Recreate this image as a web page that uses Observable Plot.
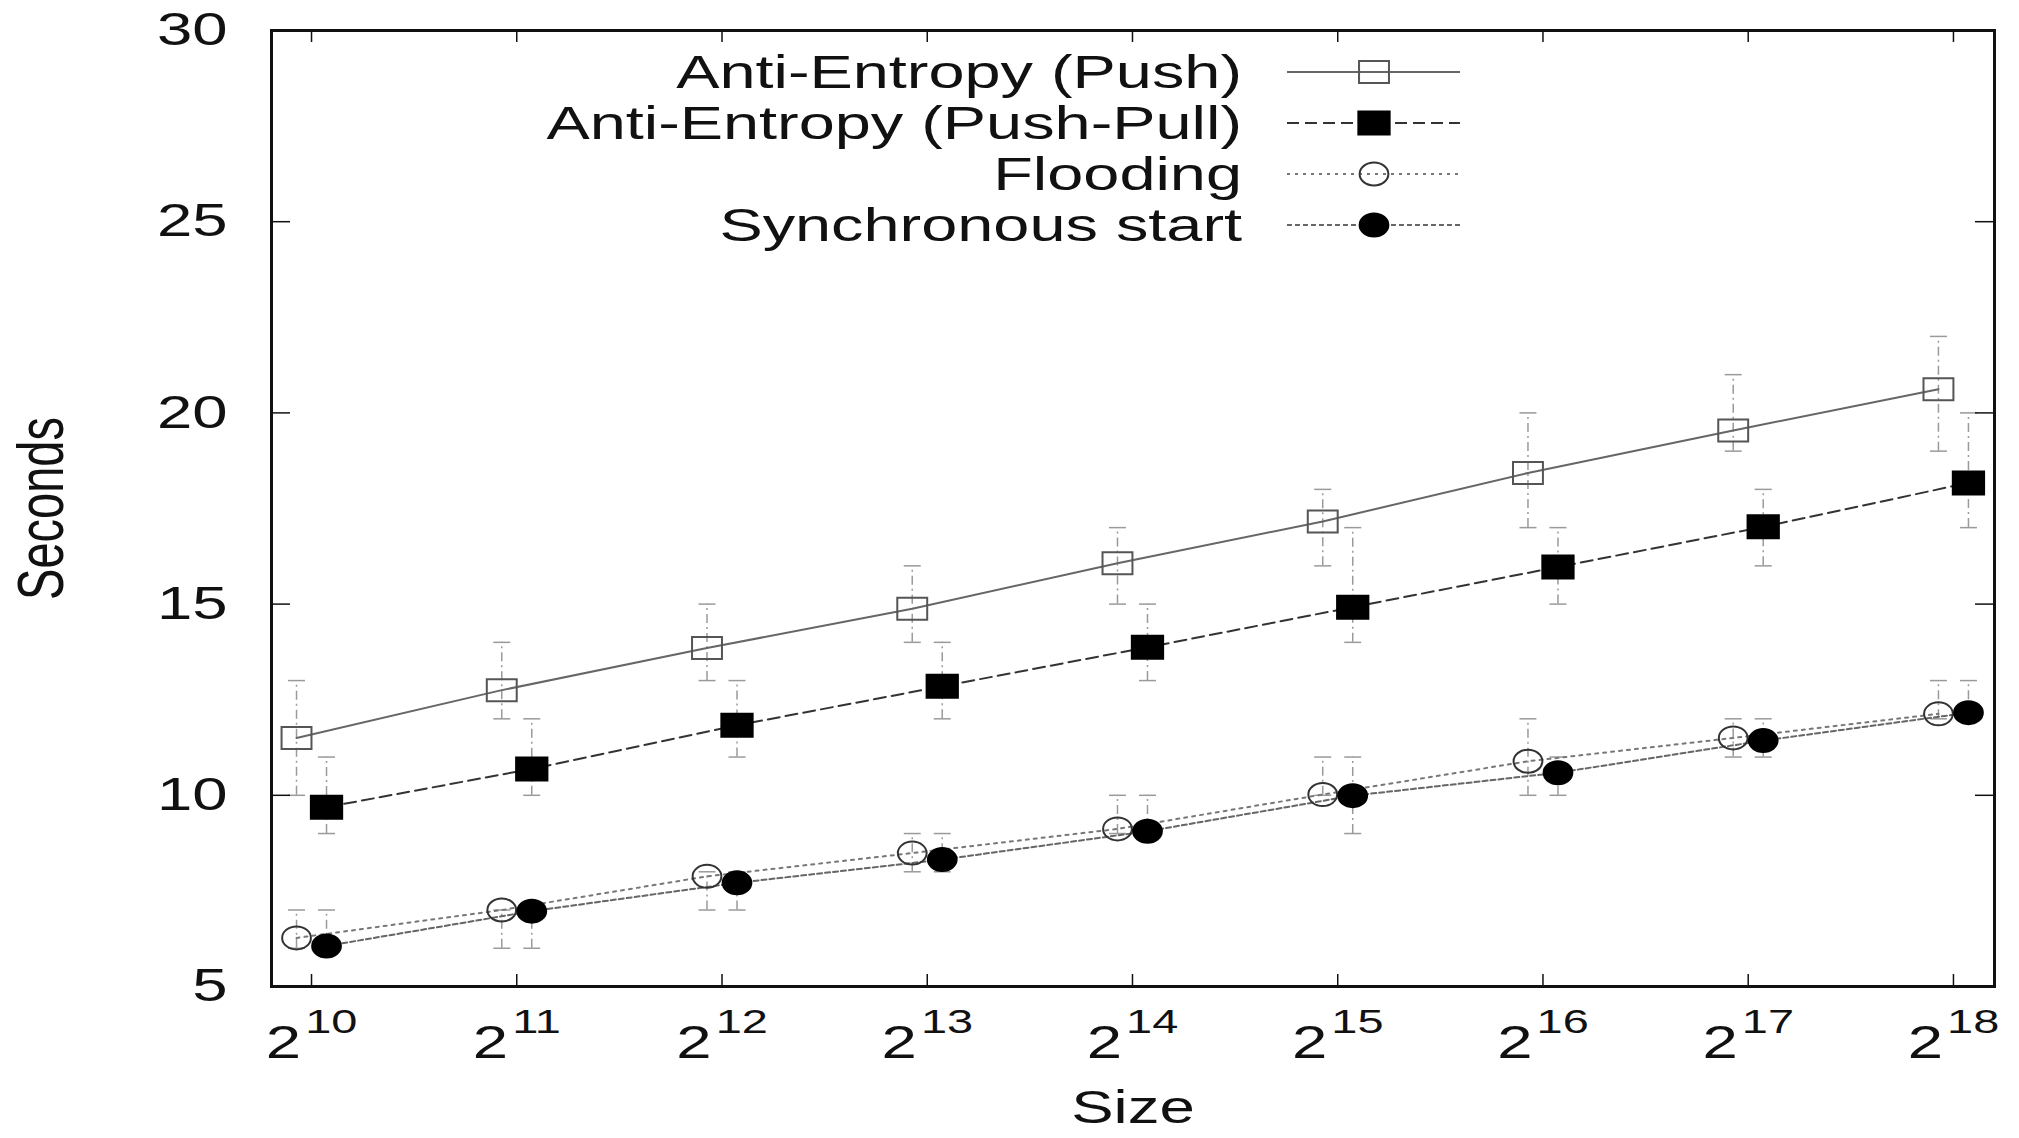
<!DOCTYPE html>
<html>
<head>
<meta charset="utf-8">
<script src="https://cdn.jsdelivr.net/npm/d3@7"></script>
<script src="https://cdn.jsdelivr.net/npm/@observablehq/plot@0.6"></script>
<style>
html, body { margin: 0; padding: 0; background: #fff; }
#wrap { position: relative; width: 2019px; height: 1138px; overflow: hidden; }
#wrap svg { position: absolute; left: 0; top: 0; }
</style>
</head>
<body>
<div id="wrap"></div>
<script>
// ---------------- data ----------------
const exponents = [10, 11, 12, 13, 14, 15, 16, 17, 18];   // Size = 2^exponent
const yTicks = [5, 10, 15, 20, 25, 30];

const seriesNames = ["Anti-Entropy (Push)", "Anti-Entropy (Push-Pull)", "Flooding", "Synchronous start"];

const pushMean = [11.5, 12.75, 13.85, 14.88, 16.07, 17.16, 18.43, 19.54, 20.62];
const pushLo   = [10, 12, 13, 14, 15, 16, 17, 19, 19];
const pushHi   = [13, 14, 15, 16, 17, 18, 20, 21, 22];

const pushPullMean = [9.69, 10.69, 11.83, 12.85, 13.87, 14.92, 15.97, 17.02, 18.17];
const pushPullLo   = [9, 10, 11, 12, 13, 14, 15, 16, 17];
const pushPullHi   = [11, 12, 13, 14, 15, 17, 17, 18, 20];

const floodMean = [6.27, 7.0, 7.88, 8.49, 9.12, 10.02, 10.89, 11.5, 12.13];
const floodLo   = [6, 6, 7, 8, 9, 10, 10, 11, 12];
const floodHi   = [7, 7, 8, 9, 10, 11, 12, 12, 13];

const syncMean = [6.06, 6.97, 7.71, 8.32, 9.06, 9.99, 10.59, 11.43, 12.16];
const syncLo   = [6, 6, 7, 8, 9, 9, 10, 11, 12];
const syncHi   = [7, 7, 8, 9, 10, 11, 11, 12, 13];

// ---------------- styling ----------------
const W = 2019, H = 1138;
const M = {left: 271, right: 25, top: 30, bottom: 152};
const innerW = W - M.left - M.right, innerH = H - M.top - M.bottom;
const FONT = "'Liberation Sans', Arial, Helvetica, sans-serif";
const FS = 46;          // font size
const STRETCH = 1.38;   // horizontal stretch of the glyphs in the reference

// horizontally stretched square and ellipse symbols
const rectSym = {draw(ctx, size) {
  const h = Math.sqrt(size / Math.PI), w = h * 1.36;
  ctx.moveTo(-w, -h); ctx.lineTo(w, -h); ctx.lineTo(w, h); ctx.lineTo(-w, h); ctx.closePath();
}};
const ellSym = {draw(ctx, size) {
  const h = Math.sqrt(size / Math.PI), w = h * 1.25, k = 0.5523;
  ctx.moveTo(w, 0);
  ctx.bezierCurveTo(w, k * h, k * w, h, 0, h);
  ctx.bezierCurveTo(-k * w, h, -w, k * h, -w, 0);
  ctx.bezierCurveTo(-w, -k * h, -k * w, -h, 0, -h);
  ctx.bezierCurveTo(k * w, -h, w, -k * h, w, 0);
  ctx.closePath();
}};
const capSym = {draw(ctx) { ctx.moveTo(-8.5, 0); ctx.lineTo(8.5, 0); }};

const styles = [
  {dx: -15, line: "#666", width: 2, dash: null,     symbol: rectSym, r: 11,   fill: "none",  mstroke: "#555"},
  {dx:  15, line: "#333", width: 2, dash: "12,6",   symbol: rectSym, r: 11.5, fill: "#000",  mstroke: "#000"},
  {dx: -15, line: "#777", width: 2, dash: "3,5",    symbol: ellSym,  r: 11.5, fill: "none",  mstroke: "#333"},
  {dx:  15, line: "#666", width: 2, dash: "5,3",    symbol: ellSym,  r: 11.5, fill: "#000",  mstroke: "#000"}
];

const means = [pushMean, pushPullMean, floodMean, syncMean];
const los = [pushLo, pushPullLo, floodLo, syncLo];
const his = [pushHi, pushPullHi, floodHi, syncHi];

const seriesRows = seriesNames.map((name, s) =>
  exponents.map((e, i) => ({series: name, x: e, y: means[s][i], lo: los[s][i], hi: his[s][i]})));

// ---------------- marks ----------------
const marks = [];
seriesRows.forEach((rows, s) => {
  const st = styles[s];
  marks.push(Plot.ruleX(rows, {x: "x", y1: "lo", y2: "hi", dx: st.dx, stroke: "#9a9a9a", strokeWidth: 1.5, strokeDasharray: "9,4,2,4"}));
  marks.push(Plot.dot(rows, {x: "x", y: "lo", dx: st.dx, symbol: capSym, r: 8, fill: "none", stroke: "#9a9a9a", strokeWidth: 1.5}));
  marks.push(Plot.dot(rows, {x: "x", y: "hi", dx: st.dx, symbol: capSym, r: 8, fill: "none", stroke: "#9a9a9a", strokeWidth: 1.5}));
});
seriesRows.forEach((rows, s) => {
  const st = styles[s];
  marks.push(Plot.line(rows, {x: "x", y: "y", dx: st.dx, stroke: st.line, strokeWidth: st.width, strokeDasharray: st.dash}));
});
seriesRows.forEach((rows, s) => {
  const st = styles[s];
  marks.push(Plot.dot(rows, {x: "x", y: "y", dx: st.dx, symbol: st.symbol, r: st.r, fill: st.fill, stroke: st.mstroke, strokeWidth: 2}));
});

// inward ticks on all four sides
const yTickLen = 19, xTickLen = 12;
marks.push(Plot.tickY(yTicks, {y: d => d, insetRight: innerW - yTickLen, stroke: "#111", strokeWidth: 1.5}));
marks.push(Plot.tickY(yTicks, {y: d => d, insetLeft: innerW - yTickLen, stroke: "#111", strokeWidth: 1.5}));
marks.push(Plot.tickX(exponents, {x: d => d, insetTop: innerH - xTickLen, stroke: "#111", strokeWidth: 1.5}));
marks.push(Plot.tickX(exponents, {x: d => d, insetBottom: innerH - xTickLen, stroke: "#111", strokeWidth: 1.5}));

marks.push(Plot.axisY({ticks: yTicks, anchor: "left", tickSize: 0, tickPadding: 44, fontSize: FS, label: null, fill: "#111", tickFormat: d => String(d)}));
marks.push(Plot.axisX({ticks: exponents, anchor: "bottom", tickSize: 0, tickPadding: 39, fontSize: FS, label: null, fill: "#111", tickFormat: d => `2^${d}`}));

marks.push(Plot.text(["Seconds"], {text: d => d, frameAnchor: "left", textAnchor: "middle", lineAnchor: "middle", dx: -229, rotate: -90, fontSize: 47, fill: "#111"}));
marks.push(Plot.text(["Size"], {text: d => d, frameAnchor: "bottom", textAnchor: "middle", lineAnchor: "middle", dy: 122, fontSize: 46, fill: "#111"}));

marks.push(Plot.frame({stroke: "#111", strokeWidth: 3}));

const chart = Plot.plot({
  width: W, height: H,
  marginLeft: M.left, marginRight: M.right, marginTop: M.top, marginBottom: M.bottom,
  style: {fontFamily: FONT, background: "#fff", overflow: "visible"},
  x: {type: "linear", domain: [9.805, 18.2], axis: null},
  y: {type: "linear", domain: [5, 30], axis: null},
  marks
});

// superscript exponents on x tick labels
chart.querySelectorAll('[aria-label="x-axis tick label"] text').forEach(t => {
  const m = /^2\^(\d+)$/.exec(t.textContent.trim());
  if (!m) return;
  t.textContent = "";
  const base = document.createElementNS("http://www.w3.org/2000/svg", "tspan");
  base.textContent = "2";
  const sup = document.createElementNS("http://www.w3.org/2000/svg", "tspan");
  sup.textContent = m[1];
  sup.setAttribute("font-size", "34");
  sup.setAttribute("dx", "3");
  sup.setAttribute("dy", "-25");
  t.appendChild(base); t.appendChild(sup);
});

document.getElementById("wrap").appendChild(chart);

// ---------------- legend (inside plot, top) ----------------
const legend = d3.select("#wrap").append("svg")
  .attr("width", W).attr("height", H)
  .style("font-family", FONT).style("pointer-events", "none");
const legX = {textEnd: 1242, lineStart: 1287, lineEnd: 1460, marker: 1374};
const legRow0 = 72, legStep = 51;
seriesNames.forEach((name, s) => {
  const st = styles[s];
  const y = legRow0 + s * legStep;
  const g = legend.append("g");
  g.append("text").attr("text-anchor", "end").attr("dy", "0.35em")
    .attr("font-size", 47).attr("fill", "#111")
    .attr("transform", `translate(${legX.textEnd},${y})`).text(name);
  g.append("line").attr("x1", legX.lineStart).attr("x2", legX.lineEnd).attr("y1", y).attr("y2", y)
    .attr("stroke", st.line).attr("stroke-width", st.width).attr("stroke-dasharray", st.dash);
  g.append("path").attr("transform", `translate(${legX.marker},${y})`)
    .attr("d", d3.symbol().type(st.symbol).size(Math.PI * st.r * st.r)())
    .attr("fill", st.fill).attr("stroke", st.mstroke).attr("stroke-width", 2);
});

// stretch glyphs horizontally like the reference
document.querySelectorAll("#wrap svg text").forEach(t => {
  let tr = t.getAttribute("transform");
  if (!tr) {
    const x = +t.getAttribute("x") || 0;
    t.setAttribute("x", 0);
    tr = `translate(${x},0)`;
  }
  const rotated = /rotate/.test(tr);
  t.setAttribute("transform", tr + (rotated ? ` scale(1,${STRETCH})` : ` scale(${STRETCH},1)`));
});
</script>
</body>
</html>
